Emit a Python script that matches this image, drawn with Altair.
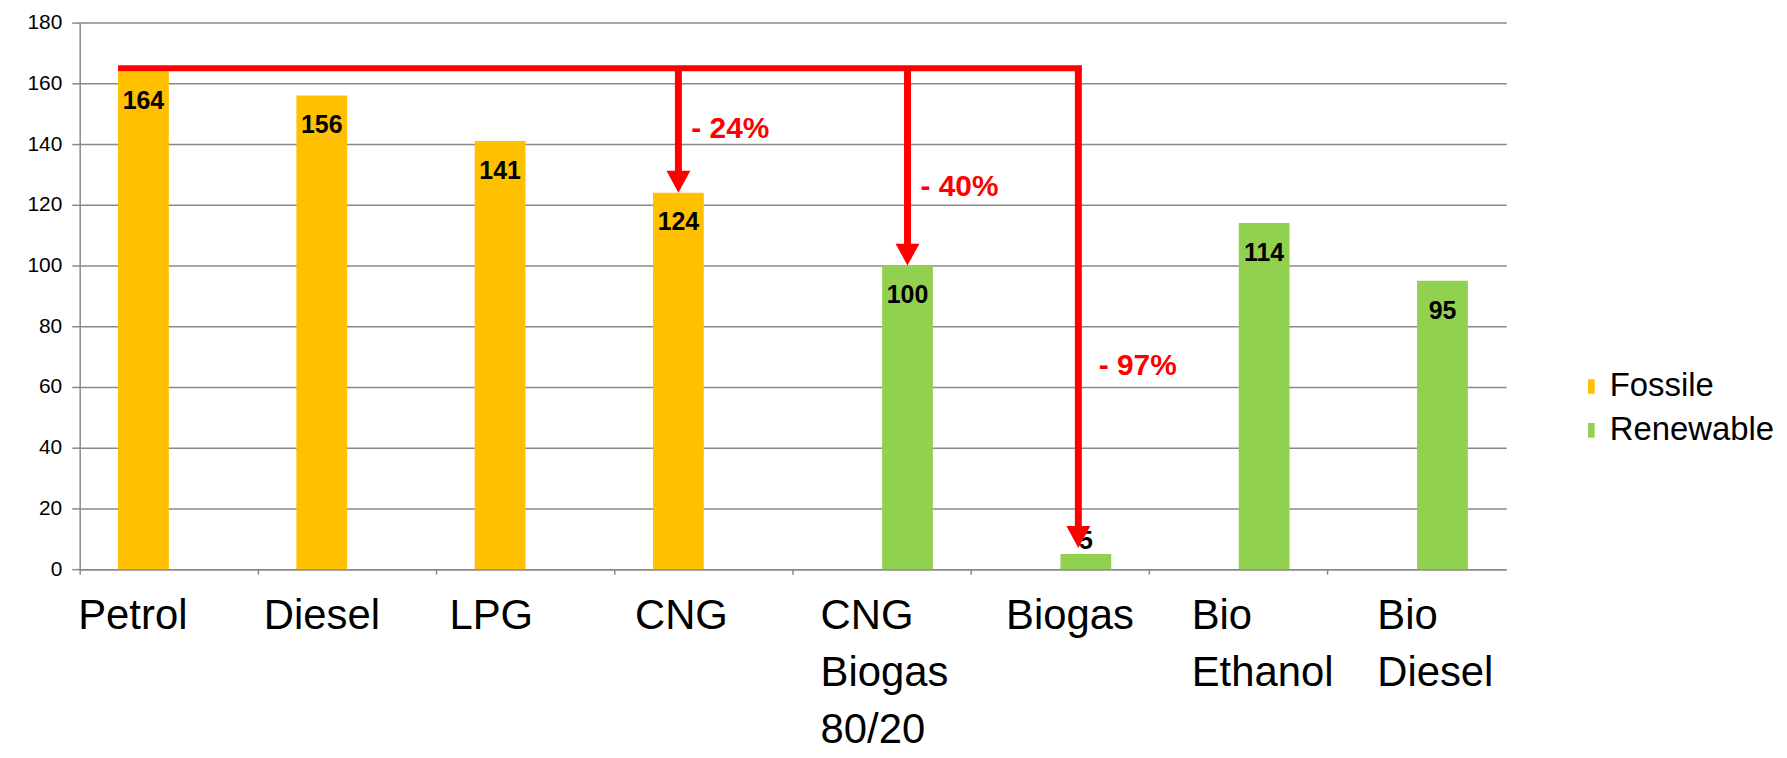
import altair as alt
import pandas as pd

# ---- data ----
categories = ["Petrol", "Diesel", "LPG", "CNG", "CNG Biogas 80/20", "Biogas", "Bio Ethanol", "Bio Diesel"]
values = [164, 156, 141, 124, 100, 5, 114, 95]
groups = ["Fossile", "Fossile", "Fossile", "Fossile", "Renewable", "Renewable", "Renewable", "Renewable"]
group_names = ["Fossile", "Renewable"]
group_colors = ["#FFC000", "#92D050"]

arrow_targets = ["CNG", "CNG Biogas 80/20", "Biogas"]
arrow_groups = ["Fossile", "Renewable", "Renewable"]
arrow_tips = [124, 100, 7]
arrow_top = 165
pct_labels = ["- 24%", "- 40%", "- 97%"]
pct_levels = [145, 126, 67]
line_from = "Petrol"
line_to = "Biogas"
y_ticks = [0, 20, 40, 60, 80, 100, 120, 140, 160, 180]

bars_df = pd.DataFrame({"category": categories, "value": values, "group": groups})
arrows_df = pd.DataFrame({
    "category": arrow_targets, "group": arrow_groups,
    "top": [arrow_top] * len(arrow_targets), "tip": arrow_tips,
    "label": pct_labels, "level": pct_levels,
})
hline_df = pd.DataFrame({"category": [line_from], "end": [line_to], "top": [arrow_top]})

GRAY = "#898989"
X_SCALE = alt.Scale(domain=categories, paddingInner=0, paddingOuter=0)
X_AXIS = alt.Axis(
    title=None, bandPosition=0, labelAngle=0, labelAlign="left", labelBaseline="top",
    labelOffset=alt.ExprRef("-91 + 51 * datum.index"), labelPadding=22, labelFontSize=42,
    labelFont="Liberation Sans", labelLineHeight=57,
    labelExpr="split(datum.value, ' ')", labelOverlap=False, labelBound=False,
    labelFlush=False, labelLimit=0, labelColor="black", grid=False, domainColor=GRAY,
    domainWidth=1.5, tickColor=GRAY, tickWidth=1.5, tickSize=5,
)
Y_SCALE = alt.Scale(domain=[0, 180], nice=False)
Y_AXIS = alt.Axis(
    title=None, values=y_ticks, grid=True, gridColor=GRAY, gridWidth=1.5,
    domainColor=GRAY, domainWidth=1.5, tickColor=GRAY, tickWidth=1.5, tickSize=8,
    labelFontSize=21, labelFont="Liberation Sans", labelColor="black", labelPadding=10,
)
XOFF = alt.XOffset("group:N", scale=alt.Scale(domain=group_names, paddingInner=0, paddingOuter=0.756))


def xenc(field="category"):
    return alt.X(f"{field}:N", scale=X_SCALE, axis=X_AXIS, sort=categories)


def yenc(field):
    return alt.Y(f"{field}:Q", scale=Y_SCALE, axis=Y_AXIS)


legend_rect = "M-0.45,-1L0.45,-1L0.45,1L-0.45,1Z"
bars = alt.Chart(bars_df).mark_bar().encode(
    x=xenc(), xOffset=XOFF, y=yenc("value"),
    color=alt.Color("group:N", scale=alt.Scale(domain=group_names, range=group_colors),
                    legend=alt.Legend(title=None, orient="none", legendX=1502, legendY=349,
                                      symbolType=legend_rect, symbolSize=216, symbolStrokeWidth=0,
                                      labelFontSize=33, labelFont="Liberation Sans", labelLimit=0,
                                      labelColor="black", labelOffset=2, rowPadding=10, padding=0)),
)

labels_in = alt.Chart(bars_df).transform_filter("datum.value >= 20").mark_text(
    fontSize=25, fontWeight="bold", font="Liberation Sans", color="black",
    baseline="alphabetic", dy=38,
).encode(x=xenc(), xOffset=XOFF, y=yenc("value"), text="value:Q")

labels_out = alt.Chart(bars_df).transform_filter("datum.value < 20").mark_text(
    fontSize=25, fontWeight="bold", font="Liberation Sans", color="black",
    baseline="alphabetic", dy=-5,
).encode(x=xenc(), xOffset=XOFF, y=yenc("value"), text="value:Q")

hline = alt.Chart(hline_df).mark_rule(
    color="red", strokeWidth=6, xOffset=-51, x2Offset=21.5,
).encode(x=xenc(), x2="end:N", y=yenc("top"))

near = "datum.category != 'Biogas'"
far = "datum.category == 'Biogas'"
head_shape = "M-1.2,-2.2L1.2,-2.2L0,0Z"

vlines = alt.Chart(arrows_df).transform_filter(near).mark_rule(
    color="red", strokeWidth=7, y2Offset=-14,
).encode(x=xenc(), xOffset=XOFF, y=yenc("top"), y2="tip:Q")

heads = alt.Chart(arrows_df).transform_filter(near).mark_point(
    shape=head_shape, size=400, filled=True, color="red", opacity=1, strokeWidth=0,
).encode(x=xenc(), xOffset=XOFF, y=yenc("tip"))

vline_far = alt.Chart(arrows_df).transform_filter(far).mark_rule(
    color="red", strokeWidth=7, y2Offset=-14, xOffset=18,
).encode(x=xenc(), y=yenc("top"), y2="tip:Q")

head_far = alt.Chart(arrows_df).transform_filter(far).mark_point(
    shape=head_shape, size=400, filled=True, color="red", opacity=1, strokeWidth=0, xOffset=18,
).encode(x=xenc(), y=yenc("tip"))

pct = alt.Chart(arrows_df).mark_text(
    fontSize=30, fontWeight="bold", font="Liberation Sans", color="red",
    align="left", baseline="middle", dx=13,
).encode(x=xenc(), xOffset=XOFF, y=yenc("level"), text="label:N")

chart = alt.layer(bars, labels_in, labels_out, hline, vlines, heads, vline_far, head_far, pct).properties(
    width=1433, height=549,
    autosize=alt.AutoSizeParams(type="none"),
    padding={"left": 72, "top": 13, "right": 274, "bottom": 186},
).configure_view(stroke=None)

chart.save("out.html", embed_options={"renderer": "svg", "actions": False})
